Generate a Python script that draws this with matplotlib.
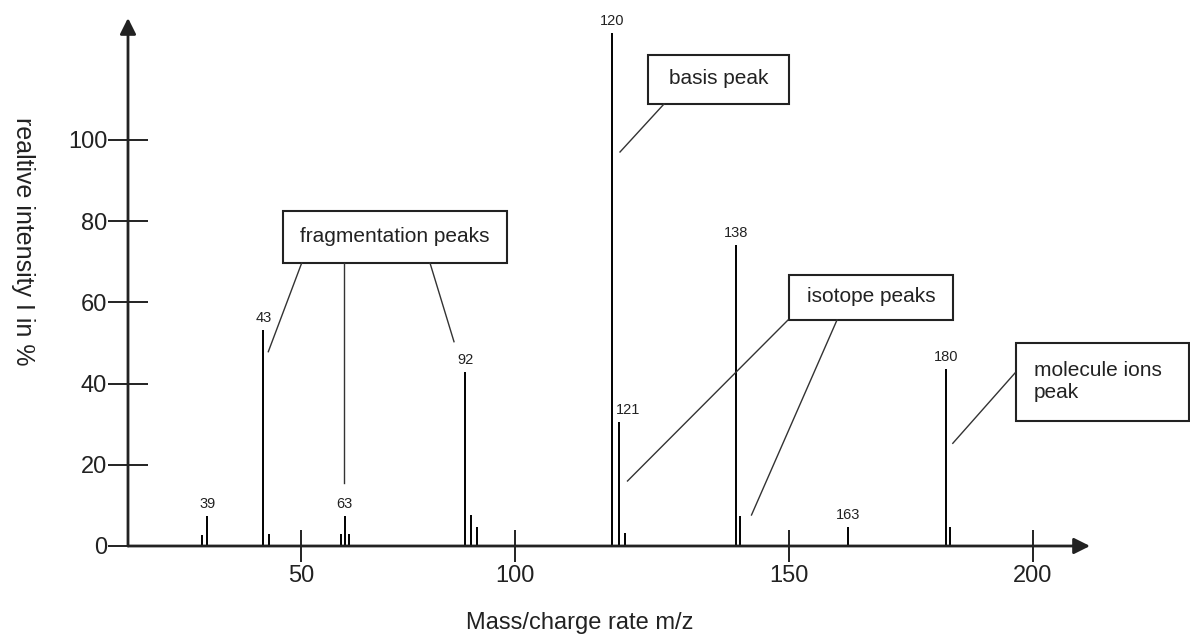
import matplotlib
matplotlib.use("Agg")
import matplotlib.pyplot as plt
from matplotlib.lines import Line2D
from matplotlib.patches import Rectangle
import numpy as np

plt.rcParams['font.family'] = ['Liberation Sans', 'DejaVu Sans']

# peaks of the spectrum: m/z and relative intensity in %
mz = [38, 39, 43, 44, 62, 63, 64, 92, 93, 94, 120, 121, 122, 138, 139, 163, 180, 181]
intensity = [2.7, 7.4, 53.2, 3.0, 3.0, 7.4, 3.0, 42.9, 7.6, 4.7,
             126.4, 30.5, 3.2, 74.1, 7.4, 4.7, 43.6, 4.7]
labelled = [39, 43, 63, 92, 120, 121, 138, 163, 180]

x_ticks = [50, 100, 150, 200]
y_ticks = [0, 20, 40, 60, 80, 100]

# the sketch is not to scale -> piecewise calibration m/z -> drawn position
axis_mz = [25, 39, 43, 50, 63, 92, 100, 120, 138, 150, 163, 180, 200, 213]
axis_pos = [0, 79.3, 135.3, 173.3, 216.7, 337, 386.7, 483.7, 607.7,
            661.3, 720.3, 818, 904.7, 962]

# callouts (canvas pixels, origin top left)
boxes = [
    ("fragmentation peaks", (283, 211, 507, 263)),
    ("basis peak", (648, 55, 789, 104)),
    ("isotope peaks", (789, 275, 953, 320)),
    ("molecule ions\npeak", (1016, 343, 1189, 421)),
]
leaders = [
    [(301.7, 263), (268.3, 351.7)],
    [(344.3, 263), (344.3, 482.7)],
    [(430, 263), (454, 341.7)],
    [(664, 104), (620, 152)],
    [(788, 320), (627.5, 481)],
    [(837, 320), (751.5, 515)],
    [(1015, 373), (952.8, 443.3)],
]

W, H = 1190, 637
fx = lambda x: x / W
fy = lambda y: 1 - y / H

fig = plt.figure(figsize=(W / 100, H / 100), dpi=100)
ax = fig.add_axes([fx(128), fy(546), (1090 - 128) / W, (546 - 18) / H])
ax.patch.set_visible(False)


def fwd(v):
    return np.interp(v, axis_mz, axis_pos)


def inv(u):
    return np.interp(u, axis_pos, axis_mz)


ax.set_xscale('function', functions=(fwd, inv))
ax.set_xlim(25, 213)
ax.set_ylim(0, 130)

ax.vlines(mz, 0, intensity, color='black', lw=1.4)
for m, v in zip(mz, intensity):
    if m in labelled:
        left = (m == 121)
        ax.annotate(str(m), (m, v), xytext=(-2 if left else 0, 3.5),
                    textcoords='offset points', ha='left' if left else 'center',
                    va='bottom', fontsize=10.5, color='#222')

for s in ax.spines.values():
    s.set_visible(False)
arrow = dict(arrowstyle='-|>', mutation_scale=24, lw=2, color='#222',
             shrinkA=0, shrinkB=0)
ax.annotate('', xy=(1, 0), xytext=(0, 0), xycoords='axes fraction',
            arrowprops=arrow, annotation_clip=False)
ax.annotate('', xy=(0, 1), xytext=(0, 0), xycoords='axes fraction',
            arrowprops=arrow, annotation_clip=False)

ax.set_xticks(x_ticks)
ax.set_yticks(y_ticks)
ax.minorticks_off()
ax.tick_params(axis='x', direction='inout', length=23, width=1.4, pad=2,
               labelsize=17, colors='#222')
ax.tick_params(axis='y', direction='inout', length=29, width=1.4, pad=0.5,
               labelsize=17, colors='#222')

fig.text(fx(580), fy(623), "Mass/charge rate m/z", ha='center', va='center',
         fontsize=17, color='#222')
fig.text(fx(23), fy(241), "realtive intensity I in %", rotation=270,
         ha='center', va='center', fontsize=18, color='#222')

for txt, (x0, y0, x1, y1) in boxes:
    fig.add_artist(Rectangle((fx(x0), fy(y1)), (x1 - x0) / W, (y1 - y0) / H,
                             transform=fig.transFigure, fill=False,
                             lw=1.5, ec='#222'))
    if '\n' in txt:
        fig.text(fx(x0 + 18), fy((y0 + y1) / 2), txt, ha='left', va='center',
                 fontsize=15, linespacing=1.2, color='#222')
    else:
        fig.text(fx((x0 + x1) / 2), fy((y0 + y1) / 2 - 1), txt, ha='center',
                 va='center', fontsize=15, color='#222')

for (xa, ya), (xb, yb) in leaders:
    fig.add_artist(Line2D([fx(xa), fx(xb)], [fy(ya), fy(yb)],
                          transform=fig.transFigure, lw=1, color='#333'))

fig.savefig('out.png', dpi=100)
